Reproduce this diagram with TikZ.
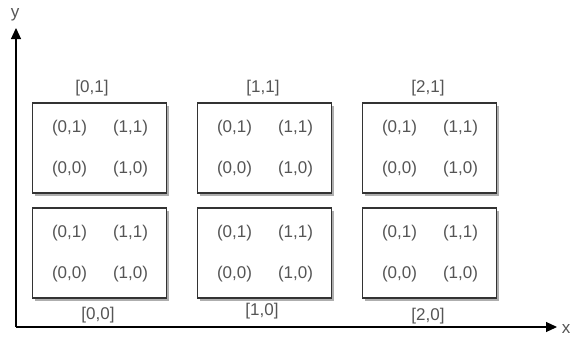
\documentclass[tikz,border=0pt]{standalone}
\usepackage{fontspec}
\setmainfont{Liberation Sans}
\usetikzlibrary{shadows,arrows.meta}
\definecolor{txt}{HTML}{555555}
\definecolor{ln}{HTML}{333333}
\begin{document}
\begin{tikzpicture}[x=1pt,y=-1pt,
  cell/.style={draw=ln,line width=1.1pt,fill=white,minimum width=134pt,minimum height=90pt,inner sep=0pt,
    drop shadow={shadow xshift=2.5pt,shadow yshift=-2.5pt,fill=black!45,opacity=0.7}},
  lbl/.style={text=txt,font=\fontsize{17pt}{20pt}\selectfont,inner sep=0pt},
  axis/.style={draw=black,line width=1.1pt,-{Triangle[length=11pt,width=10pt]}}]
\useasboundingbox (0,0) rectangle (571,338);
% axes
\coordinate (o) at (16,327);
\coordinate (ytip) at (16,28);
\coordinate (xtip) at (557,327);
\draw[axis] (o) -- (ytip);
\draw[axis] (o) -- (xtip);
\node[lbl] (ylab) at (15,15) {y};
\node[lbl] (xlab) at (566,329) {x};
% boxes
\foreach \i/\xc in {0/99.5,1/264.5,2/429.5}{
  \node[cell] (t\i) at (\xc,148) {};
  \node[cell] (b\i) at (\xc,253) {};
  \foreach \r in {t,b}{
    \node[lbl] at ([xshift=-30pt,yshift=20pt]\r\i.center) {(0,1)};
    \node[lbl] at ([xshift=31pt,yshift=20pt]\r\i.center) {(1,1)};
    \node[lbl] at ([xshift=-30pt,yshift=-21pt]\r\i.center) {(0,0)};
    \node[lbl] at ([xshift=31pt,yshift=-21pt]\r\i.center) {(1,0)};
  }
}
\node[lbl] (l01) at (92,88) {[0,1]};
\node[lbl] (l11) at (263,88) {[1,1]};
\node[lbl] (l21) at (428,88) {[2,1]};
\node[lbl] (l00) at (98,315) {[0,0]};
\node[lbl] (l10) at (262,311) {[1,0]};
\node[lbl] (l20) at (428,316) {[2,0]};
\end{tikzpicture}
\end{document}
